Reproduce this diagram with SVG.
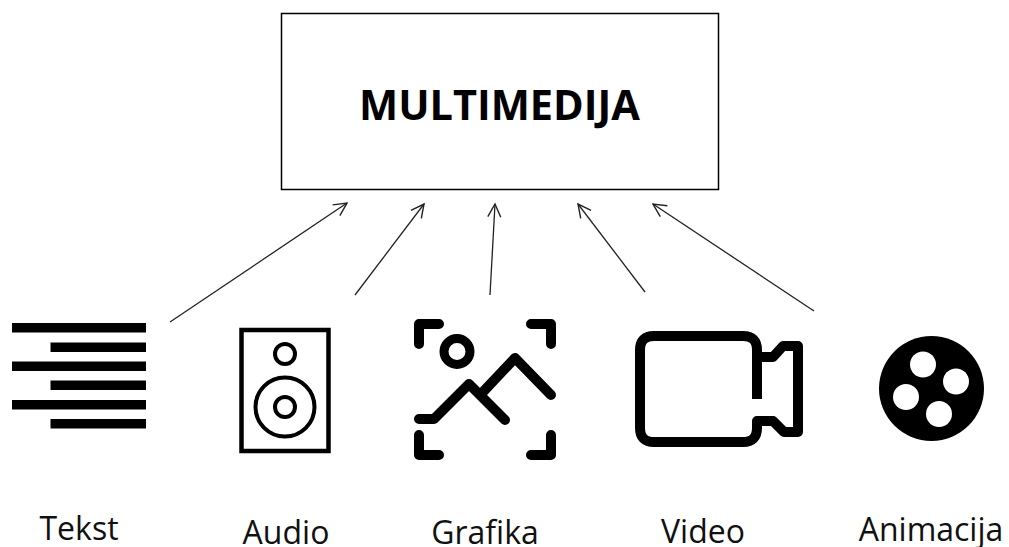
<svg xmlns="http://www.w3.org/2000/svg" width="1009" height="547" viewBox="0 0 1009 547">
<style>
.lab{font-family:"Open Sans","Noto Sans",sans-serif;font-size:32px;fill:#111;text-anchor:middle}
.ttl{font-family:"Open Sans","Noto Sans",sans-serif;font-size:41.500px;font-weight:700;fill:#000;text-anchor:middle}
.ln{fill:none;stroke:#000;stroke-linecap:round;stroke-linejoin:round}
.c{fill:none;stroke:#222;stroke-width:1.3}
</style>
<defs>
<marker id="arr" markerUnits="userSpaceOnUse" markerWidth="20" markerHeight="20" refX="16" refY="10" orient="auto">
<path d="M3 3.5L16 10L3 16.5" fill="none" stroke="#222" stroke-width="1.4"/>
</marker>
</defs>
<rect width="1009" height="547" fill="#fff"/>
<g id="connectors">
<line class="c" x1="170" y1="322" x2="347" y2="203" marker-end="url(#arr)"/>
<line class="c" x1="355" y1="295" x2="424" y2="204" marker-end="url(#arr)"/>
<line class="c" x1="490" y1="295" x2="495" y2="204" marker-end="url(#arr)"/>
<line class="c" x1="645" y1="292" x2="578" y2="204" marker-end="url(#arr)"/>
<line class="c" x1="814" y1="311" x2="653" y2="204" marker-end="url(#arr)"/>
</g>
<g id="multimedija">
<rect x="281.500" y="13.500" width="437" height="176" fill="#fff" stroke="#000" stroke-width="1.500"/>
<text class="ttl" x="499.500" y="120">MULTIMEDIJA</text>
</g>
<g id="tekst">
<path d="M12 323h134v9.500H12zM50.500 342.500h95.500v9.500H50.500zM12 361.500h134v9.500H12zM50.500 380.500h95.500v9.500H50.500zM12 400h134v9.500H12zM50.500 419h95.500v9.500H50.500z" fill="#000"/>
<text class="lab" x="79" y="540">Tekst</text>
</g>
<g id="audio">
<rect x="241.500" y="330" width="87" height="121" fill="none" stroke="#000" stroke-width="4.500"/>
<circle cx="285" cy="354" r="10" fill="none" stroke="#000" stroke-width="4"/>
<circle cx="285" cy="407" r="29.500" fill="none" stroke="#000" stroke-width="4"/>
<circle cx="285" cy="407" r="10" fill="none" stroke="#000" stroke-width="4"/>
<text class="lab" x="286" y="544">Audio</text>
</g>
<g id="grafika">
<path class="ln" stroke-width="10" d="M419 344V324H439M531 324H551V344M419 435V455H439M531 455H551V435"/>
<circle cx="457" cy="351.500" r="13" fill="none" stroke="#000" stroke-width="9"/>
<path class="ln" stroke-width="10" d="M419 419H434L469 384L505 420M482 393L515 358L551 395"/>
<text class="lab" x="485" y="544">Grafika</text>
</g>
<g id="video">
<path class="ln" stroke-width="10" style="stroke-linecap:butt" d="M757 399V350Q757 336 743 336H654Q640 336 640 350V428Q640 442 654 442H743Q757 442 757 428V421H773L784 432H798V346H783L773 357H757"/>
<text class="lab" x="703" y="543">Video</text>
</g>
<g id="animacija">
<circle cx="931.500" cy="388.500" r="52.500" fill="#000"/>
<circle cx="923" cy="364.500" r="13" fill="#fff"/>
<circle cx="956" cy="381.500" r="13" fill="#fff"/>
<circle cx="906" cy="397" r="13" fill="#fff"/>
<circle cx="939" cy="414" r="13" fill="#fff"/>
<text class="lab" x="931" y="541">Animacija</text>
</g>
</svg>
